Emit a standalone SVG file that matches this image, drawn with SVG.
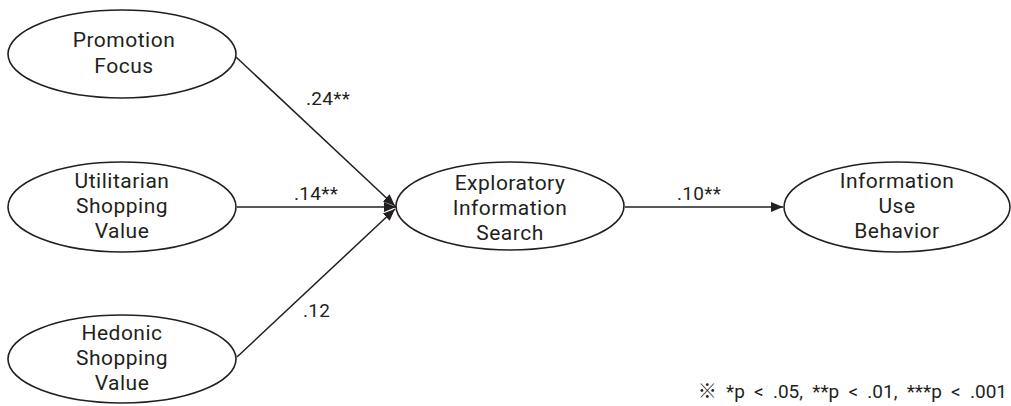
<svg xmlns="http://www.w3.org/2000/svg" width="1011" height="406" viewBox="0 0 1011 406">
  <style>
    .node ellipse { fill: #ffffff; stroke: #231f20; stroke-width: 1.6; }
    .node text { font-family: Roboto, "Open Sans", sans-serif; font-size: 21px; letter-spacing: 0.5px; fill: #231f20; text-anchor: middle; }
    .edge { stroke: #231f20; stroke-width: 1.5; fill: none; }
    .coef { font-family: Roboto, "Open Sans", sans-serif; font-size: 19px; letter-spacing: 0.3px; fill: #231f20; }
    .note { font-family: Roboto, "Open Sans", "Noto Sans CJK KR", sans-serif; font-size: 19px; word-spacing: 4.5px; fill: #231f20; text-anchor: end; }
  </style>
  <defs>
    <marker id="arrow" viewBox="0 0 12 10" refX="12" refY="5" markerWidth="12" markerHeight="10" markerUnits="userSpaceOnUse" orient="auto">
      <path d="M0,0 L12,5 L0,10 z" fill="#231f20"/>
    </marker>
  </defs>

  <rect width="1011" height="406" fill="#ffffff"/>

  <!-- connectors -->
  <g id="connectors">
    <line class="edge" x1="236" y1="57" x2="395" y2="206" marker-end="url(#arrow)"/>
    <line class="edge" x1="237" y1="207" x2="396" y2="207" marker-end="url(#arrow)"/>
    <line class="edge" x1="237" y1="357" x2="395" y2="209" marker-end="url(#arrow)"/>
    <line class="edge" x1="625" y1="207" x2="783" y2="207" marker-end="url(#arrow)"/>
    <text class="coef" x="306" y="105">.24**</text>
    <text class="coef" x="294" y="200">.14**</text>
    <text class="coef" x="303" y="317">.12</text>
    <text class="coef" x="677" y="200">.10**</text>
  </g>

  <g id="promotion-focus" class="node">
    <ellipse cx="122" cy="54" rx="114" ry="44"/>
    <text x="124" y="47">Promotion</text>
    <text x="124" y="73">Focus</text>
  </g>

  <g id="utilitarian-shopping-value" class="node">
    <ellipse cx="122" cy="207" rx="114" ry="45"/>
    <text x="122" y="188">Utilitarian</text>
    <text x="122" y="213">Shopping</text>
    <text x="122" y="238">Value</text>
  </g>

  <g id="hedonic-shopping-value" class="node">
    <ellipse cx="122" cy="359" rx="114" ry="44"/>
    <text x="122" y="340">Hedonic</text>
    <text x="122" y="365">Shopping</text>
    <text x="122" y="390">Value</text>
  </g>

  <g id="exploratory-information-search" class="node">
    <ellipse cx="510" cy="206" rx="114" ry="44"/>
    <text x="510" y="190">Exploratory</text>
    <text x="510" y="215">Information</text>
    <text x="510" y="240">Search</text>
  </g>

  <g id="information-use-behavior" class="node">
    <ellipse cx="897" cy="207" rx="113" ry="45"/>
    <text x="897" y="188">Information</text>
    <text x="897" y="213">Use</text>
    <text x="897" y="238">Behavior</text>
  </g>

  <text class="note" x="1007" y="398">※ *p &lt; .05, **p &lt; .01, ***p &lt; .001</text>
</svg>
